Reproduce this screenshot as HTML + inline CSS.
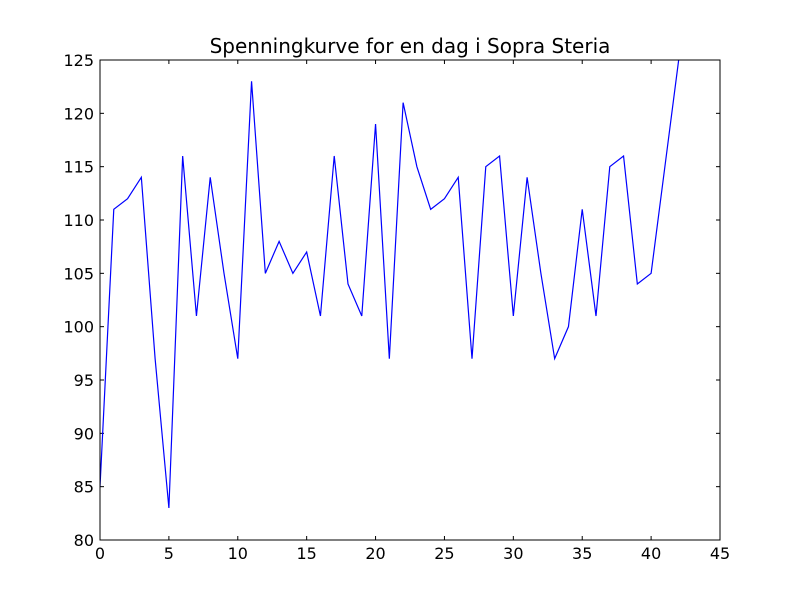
<!DOCTYPE html>
<html><head><meta charset="utf-8"><style>
body{margin:0;background:#fff;}
svg text{font-family:"DejaVu Sans","Liberation Sans",sans-serif;}
</style></head><body>
<svg id="chart" width="800" height="600" xmlns="http://www.w3.org/2000/svg">
<rect width="800" height="600" fill="#fff"/>
<text x="410" y="53" font-size="20" text-anchor="middle">Spenningkurve for en dag i Sopra Steria</text>
<defs><clipPath id="clip"><rect x="100" y="60" width="620" height="480"/></clipPath></defs>
<g id="ticks"></g>
<path id="line" fill="none" stroke="#0000ff" stroke-width="1.2" clip-path="url(#clip)"/>
<rect x="100" y="60" width="620" height="480" fill="none" stroke="#000" stroke-width="1"/>
</svg>
<script>
const values=[85,111,112,114,97,83,116,101,114,105,97,123,105,108,105,107,101,116,104,101,119,97,121,115,111,112,114,97,115,116,101,114,105,97,100,111,101,115,116,104,105,115,125];
const xTicks=[0,5,10,15,20,25,30,35,40,45];
const yTicks=[80,85,90,95,100,105,110,115,120,125];
const X=v=>100+v/45*620, Y=v=>540-(v-80)/45*480;
document.getElementById('line').setAttribute('d',values.map((v,i)=>(i?'L':'M')+X(i)+','+Y(v)).join(''));
const g=document.getElementById('ticks');const NS='http://www.w3.org/2000/svg';
function mk(t,a){const e=document.createElementNS(NS,t);for(const k in a)e.setAttribute(k,a[k]);g.appendChild(e);return e;}
xTicks.forEach(t=>{const x=X(t);
mk('line',{x1:x,x2:x,y1:540,y2:536,stroke:'#000'});mk('line',{x1:x,x2:x,y1:60,y2:64,stroke:'#000'});
const e=mk('text',{x:x,y:559,'font-size':16,'text-anchor':'middle'});e.textContent=t;

});
yTicks.forEach(t=>{const y=Y(t);
mk('line',{x1:100,x2:104,y1:y,y2:y,stroke:'#000'});mk('line',{x1:716,x2:720,y1:y,y2:y,stroke:'#000'});
const e=mk('text',{x:94,y:y+6,'font-size':16,'text-anchor':'end'});e.textContent=t;

});
</script>
</body></html>
